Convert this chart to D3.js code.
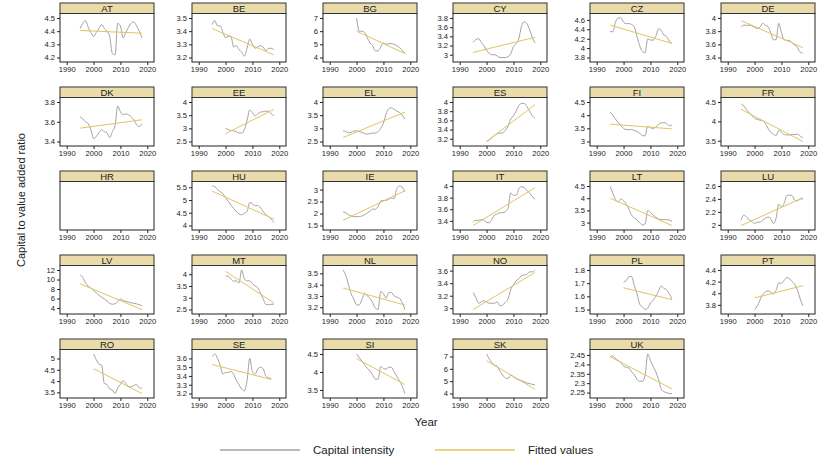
<!DOCTYPE html>
<html>
<head>
<meta charset="utf-8">
<script src="https://cdn.jsdelivr.net/npm/d3@7/dist/d3.min.js"></script>
<style>
  html, body { margin: 0; padding: 0; background: #fff; }
  svg { display: block; font-family: "Liberation Sans", Arial, sans-serif; }
</style>
</head>
<body>
<div id="chart"></div>
<script>
// ---- data ----
const countries = ['AT', 'BE', 'BG', 'CY', 'CZ', 'DE',
                   'DK', 'EE', 'EL', 'ES', 'FI', 'FR',
                   'HR', 'HU', 'IE', 'IT', 'LT', 'LU',
                   'LV', 'MT', 'NL', 'NO', 'PL', 'PT',
                   'RO', 'SE', 'SI', 'SK', 'UK'];

const firstYear = [1995, 1995, 2000, 1995, 1995, 1995,
                   1995, 2000, 1995, 2000, 1995, 1995,
                   null, 1995, 1995, 1995, 1995, 1995,
                   1995, 2000, 1995, 1995, 2000, 2000,
                   2000, 1995, 2000, 2000, 1995];

const capitalIntensity = [
  [4.42, 4.46, 4.48, 4.43, 4.39, 4.36, 4.39, 4.42, 4.45, 4.42, 4.40, 4.36, 4.23, 4.22, 4.46, 4.44, 4.35, 4.39, 4.43, 4.46, 4.47, 4.44, 4.40, 4.35],
  [3.45, 3.48, 3.44, 3.44, 3.39, 3.35, 3.36, 3.36, 3.28, 3.29, 3.26, 3.24, 3.21, 3.27, 3.34, 3.30, 3.27, 3.28, 3.29, 3.28, 3.25, 3.27, 3.27, 3.26],
  [7.0, 6.0, 6.0, 5.9, 5.5, 5.1, 4.9, 4.5, 4.5, 4.8, 5.1, 5.0, 5.05, 5.05, 5.0, 4.9, 4.75, 4.55, 4.3],
  [3.27, 3.33, 3.35, 3.27, 3.2, 3.1, 3.03, 3.0, 3.0, 2.97, 2.94, 2.94, 2.94, 2.96, 3.02, 3.18, 3.24, 3.35, 3.62, 3.72, 3.68, 3.55, 3.38, 3.26],
  [4.35, 4.35, 4.55, 4.64, 4.64, 4.55, 4.52, 4.52, 4.50, 4.45, 4.25, 4.05, 3.93, 3.9, 4.2, 4.17, 4.17, 4.25, 4.41, 4.38, 4.28, 4.25, 4.15, 4.1],
  [3.86, 3.89, 3.89, 3.89, 3.88, 3.86, 3.84, 3.86, 3.92, 3.89, 3.87, 3.78, 3.67, 3.67, 3.92, 3.78, 3.67, 3.66, 3.66, 3.62, 3.59, 3.55, 3.48, 3.47],
  [3.65, 3.63, 3.60, 3.58, 3.52, 3.43, 3.45, 3.49, 3.52, 3.50, 3.49, 3.44, 3.50, 3.56, 3.76, 3.70, 3.67, 3.68, 3.67, 3.65, 3.62, 3.57, 3.55, 3.58],
  [3.0, 2.95, 2.92, 2.9, 2.87, 2.82, 2.82, 2.95, 3.3, 3.7, 3.6, 3.47, 3.55, 3.62, 3.63, 3.65, 3.65, 3.55, 3.48],
  [2.9, 2.88, 2.83, 2.85, 2.9, 2.9, 2.88, 2.85, 2.8, 2.78, 2.8, 2.82, 2.82, 2.88, 3.0, 3.2, 3.55, 3.75, 3.78, 3.72, 3.65, 3.6, 3.5, 3.35],
  [3.14, 3.17, 3.22, 3.28, 3.31, 3.32, 3.33, 3.38, 3.48, 3.63, 3.7, 3.8, 3.92, 3.97, 3.97, 3.9, 3.8, 3.7, 3.65],
  [4.12, 4.0, 3.85, 3.72, 3.6, 3.5, 3.45, 3.45, 3.45, 3.42, 3.38, 3.32, 3.22, 3.22, 3.58, 3.52, 3.5, 3.55, 3.65, 3.7, 3.72, 3.68, 3.6, 3.62],
  [4.45, 4.4, 4.3, 4.22, 4.15, 4.08, 4.05, 4.03, 4.02, 3.95, 3.82, 3.72, 3.67, 3.63, 3.77, 3.72, 3.66, 3.65, 3.65, 3.66, 3.66, 3.67, 3.62, 3.57],
  [],
  [5.55, 5.52, 5.42, 5.33, 5.25, 5.1, 4.95, 4.8, 4.67, 4.55, 4.45, 4.42, 4.48, 4.55, 4.9, 4.85, 4.78, 4.78, 4.7, 4.55, 4.42, 4.35, 4.25, 4.12],
  [2.08, 2.03, 1.95, 1.9, 1.87, 1.87, 1.87, 1.9, 1.95, 2.02, 2.1, 2.18, 2.18, 2.3, 2.52, 2.55, 2.55, 2.6, 2.65, 2.62, 3.05, 3.15, 3.1, 2.9],
  [3.39, 3.41, 3.41, 3.42, 3.42, 3.37, 3.37, 3.43, 3.5, 3.52, 3.54, 3.54, 3.56, 3.62, 3.88, 3.84, 3.84, 3.95, 3.99, 3.97, 3.93, 3.88, 3.82, 3.77],
  [4.48, 4.2, 3.95, 3.85, 3.97, 3.9, 3.75, 3.55, 3.3, 3.2, 3.1, 3.0, 2.9, 2.95, 3.5, 3.42, 3.3, 3.22, 3.15, 3.12, 3.12, 3.12, 3.1, 3.05],
  [2.08, 2.15, 2.12, 2.08, 2.05, 2.02, 2.04, 2.04, 2.07, 2.1, 2.12, 2.1, 2.02, 2.1, 2.32, 2.28, 2.33, 2.45, 2.46, 2.45, 2.38, 2.37, 2.4, 2.4],
  [11.0, 10.4, 9.3, 8.6, 8.2, 7.7, 7.2, 6.7, 6.3, 5.9, 5.5, 5.0, 4.8, 4.9, 5.4, 5.9, 5.6, 5.4, 5.3, 5.1, 5.0, 4.9, 4.7, 4.5],
  [3.92, 3.92, 3.8, 3.7, 3.72, 3.62, 4.18, 3.8, 3.72, 3.72, 3.6, 3.5, 3.42, 3.2, 2.95, 2.72, 2.7, 2.72, 2.73],
  [3.53, 3.48, 3.4, 3.32, 3.27, 3.22, 3.22, 3.27, 3.32, 3.3, 3.28, 3.24, 3.19, 3.18, 3.34, 3.32, 3.28, 3.33, 3.33, 3.3, 3.29, 3.28, 3.24, 3.18],
  [3.25, 3.17, 3.08, 3.1, 3.12, 3.1, 3.08, 3.08, 3.08, 3.1, 3.04, 3.05, 3.1, 3.15, 3.3, 3.37, 3.44, 3.47, 3.52, 3.53, 3.54, 3.58, 3.58, 3.61],
  [1.71, 1.72, 1.75, 1.75, 1.68, 1.62, 1.54, 1.52, 1.5, 1.51, 1.55, 1.57, 1.6, 1.64, 1.68, 1.66, 1.65, 1.62, 1.58],
  [3.72, 3.78, 3.88, 3.98, 4.02, 4.04, 4.02, 3.99, 4.05, 4.18, 4.17, 4.22, 4.27, 4.25, 4.2, 4.15, 4.05, 3.9, 3.78],
  [5.2, 4.95, 4.75, 4.7, 3.9, 3.85, 3.65, 3.6, 3.45, 3.7, 3.85, 4.02, 3.9, 3.75, 3.75, 3.8, 3.85, 3.7, 3.68],
  [3.62, 3.65, 3.6, 3.52, 3.42, 3.44, 3.44, 3.45, 3.42, 3.35, 3.3, 3.25, 3.23, 3.35, 3.6, 3.45, 3.42, 3.48, 3.5, 3.48, 3.4, 3.38, 3.37],
  [4.5, 4.4, 4.3, 4.2, 4.1, 4.03, 3.92, 3.8, 3.8, 4.15, 4.1, 4.08, 4.13, 4.13, 4.0, 3.88, 3.75, 3.6, 3.4],
  [7.2, 6.8, 6.5, 6.3, 6.2, 5.8, 5.5, 5.25, 5.2, 5.5, 5.35, 5.2, 5.1, 5.05, 4.95, 4.85, 4.8, 4.75, 4.7],
  [2.44, 2.445, 2.43, 2.42, 2.41, 2.39, 2.385, 2.38, 2.36, 2.345, 2.32, 2.31, 2.31, 2.34, 2.455, 2.42, 2.39, 2.36, 2.32, 2.27, 2.255, 2.25, 2.245, 2.245]
];

// fitted values at the first and the last year of each series
const fitFirst = [4.405, 3.42, 6.0, 3.05, 4.49, 3.96,
                  3.535, 2.8, 2.65, 3.14, 3.66, 4.31,
                  null, 5.35, 1.72, 3.32, 4.0, 1.99,
                  9.1, 4.12, 3.37, 2.98, 1.665, 3.92,
                  4.55, 3.53, 4.37, 6.65, 2.44];
const fitLast = [4.385, 3.22, 4.3, 3.38, 4.1, 3.55,
                 3.62, 3.72, 3.62, 3.94, 3.48, 3.48,
                 null, 4.25, 2.95, 3.97, 2.88, 2.42,
                 3.7, 2.78, 3.22, 3.57, 1.575, 4.13,
                 3.45, 3.36, 3.65, 4.35, 2.27];

const yTicks = [
  [4.2, 4.3, 4.4, 4.5], [3.2, 3.3, 3.4, 3.5], [4, 5, 6, 7], [3, 3.2, 3.4, 3.6, 3.8], [3.8, 4, 4.2, 4.4, 4.6], [3.4, 3.6, 3.8, 4],
  [3.4, 3.6, 3.8], [2.5, 3, 3.5, 4], [2.5, 3, 3.5, 4], [3.2, 3.4, 3.6, 3.8, 4], [3, 3.5, 4, 4.5], [3.5, 4, 4.5],
  [], [4, 4.5, 5, 5.5], [1.5, 2, 2.5, 3], [3.4, 3.6, 3.8, 4], [3, 3.5, 4, 4.5], [2, 2.2, 2.4, 2.6],
  [4, 6, 8, 10, 12], [2.5, 3, 3.5, 4], [3.2, 3.3, 3.4, 3.5], [3, 3.2, 3.4, 3.6], [1.5, 1.6, 1.7, 1.8], [3.8, 4, 4.2, 4.4],
  [3.5, 4, 4.5, 5], [3.2, 3.3, 3.4, 3.5, 3.6], [3.5, 4, 4.5], [4, 5, 6, 7], [2.25, 2.3, 2.35, 2.4, 2.45]
];

const xTicks = [1990, 2000, 2010, 2020];
const legendLabels = ['Capital intensity', 'Fitted values'];

// ---- layout ----
const W = 830, H = 460;
const colLeft = [60, 192, 323, 453, 590, 721];
const panelW = 94;
const rowStep = 84, stripH = 10.5, panelH = 59;
const pad = 4.5;
const lineColor = '#a3a3a3';
const fitColor = '#e2c463';
const stripFill = '#e9dcaa';
const inkColor = '#222';

const svg = d3.select('#chart').append('svg')
  .attr('width', W).attr('height', H);

svg.append('rect').attr('width', W).attr('height', H).attr('fill', '#fff');

countries.forEach((name, i) => {
  const col = i % 6, row = Math.floor(i / 6);
  const left = colLeft[col];
  const top = 3 + row * rowStep;
  const plotTop = top + stripH;
  const plotBottom = top + panelH;
  const g = svg.append('g');

  const vals = capitalIntensity[i];
  const y0 = firstYear[i];
  const series = vals.map((v, k) => ({ year: y0 + k, value: v }));
  const lastYear = y0 + vals.length - 1;

  const x = d3.scaleLinear().domain([1987.5, 2022.5]).range([left, left + panelW]);

  const ext = d3.extent([...yTicks[i], ...vals,
    ...(fitFirst[i] != null ? [fitFirst[i], fitLast[i]] : [])]);
  const y = d3.scaleLinear()
    .domain(ext[0] == null ? [0, 1] : ext)
    .range([plotBottom - pad, plotTop + pad]);

  // plot frame
  g.append('rect')
    .attr('x', left).attr('y', plotTop)
    .attr('width', panelW).attr('height', plotBottom - plotTop)
    .attr('fill', '#fff').attr('stroke', inkColor).attr('stroke-width', 1);

  // strip
  g.append('rect')
    .attr('x', left).attr('y', top)
    .attr('width', panelW).attr('height', stripH)
    .attr('fill', stripFill).attr('stroke', '#333').attr('stroke-width', 1);
  g.append('text')
    .attr('x', left + panelW / 2).attr('y', top + stripH / 2 + 3.3)
    .attr('text-anchor', 'middle')
    .attr('fill', inkColor)
    .style('font-size', '9.5px')
    .text(name);

  // axes
  g.append('g')
    .attr('transform', `translate(0,${plotBottom})`)
    .call(d3.axisBottom(x).tickValues(xTicks).tickSize(3).tickPadding(2).tickFormat(d3.format('d')))
    .call(sel => {
      sel.select('.domain').remove();
      sel.selectAll('line').attr('stroke', inkColor);
      sel.selectAll('text').attr('fill', inkColor).style('font-size', '7.6px')
        .style('font-family', '"Liberation Sans", Arial, sans-serif');
    });

  g.append('g')
    .attr('transform', `translate(${left},0)`)
    .call(d3.axisLeft(y).tickValues(yTicks[i]).tickSize(3).tickPadding(2).tickFormat(d3.format('~g')))
    .call(sel => {
      sel.select('.domain').remove();
      sel.selectAll('line').attr('stroke', inkColor);
      sel.selectAll('text').attr('fill', inkColor).style('font-size', '7.6px')
        .style('font-family', '"Liberation Sans", Arial, sans-serif');
    });

  if (!vals.length) return;

  const line = d3.line().x(d => x(d.year)).y(d => y(d.value)).curve(d3.curveMonotoneX);

  g.append('path')
    .datum(series)
    .attr('d', line)
    .attr('fill', 'none')
    .attr('stroke', lineColor)
    .attr('stroke-width', 1);

  g.append('path')
    .datum([{ year: y0, value: fitFirst[i] }, { year: lastYear, value: fitLast[i] }])
    .attr('d', d3.line().x(d => x(d.year)).y(d => y(d.value)))
    .attr('fill', 'none')
    .attr('stroke', fitColor)
    .attr('stroke-width', 1);
});

// axis titles
svg.append('text')
  .attr('transform', 'translate(25,200) rotate(-90)')
  .attr('text-anchor', 'middle')
  .attr('fill', inkColor)
  .style('font-size', '11px')
  .text('Capital to value added ratio');

svg.append('text')
  .attr('x', 426).attr('y', 426)
  .attr('text-anchor', 'middle')
  .attr('fill', inkColor)
  .style('font-size', '11.5px')
  .text('Year');

// legend
const legend = svg.append('g');
[[220, lineColor], [435, fitColor]].forEach(([lx, c], k) => {
  legend.append('line')
    .attr('x1', lx).attr('x2', lx + 80).attr('y1', 450).attr('y2', 450)
    .attr('stroke', c).attr('stroke-width', 1.6);
  legend.append('text')
    .attr('x', lx + 93).attr('y', 454)
    .attr('fill', inkColor)
    .style('font-size', '11.5px')
    .text(legendLabels[k]);
});
</script>
</body>
</html>
